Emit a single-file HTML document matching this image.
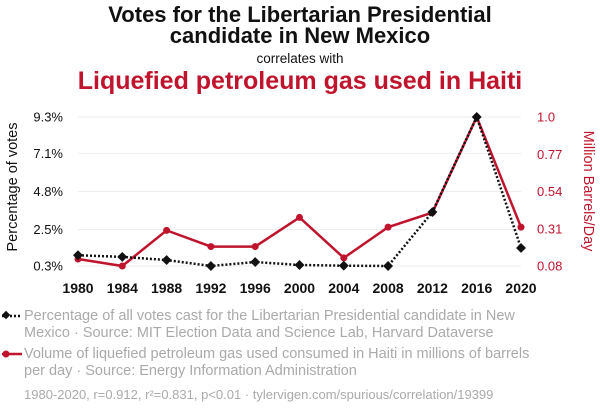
<!DOCTYPE html>
<html><head><meta charset="utf-8"><style>
body{margin:0;background:#fff;font-family:"Liberation Sans",sans-serif;}
svg text{font-family:"Liberation Sans",sans-serif;}
</style></head><body>
<svg width="600" height="414">
<text x="300" y="22" text-anchor="middle" font-size="22" font-weight="bold" fill="#111">Votes for the Libertarian Presidential</text>
<text x="300" y="43" text-anchor="middle" font-size="22" font-weight="bold" fill="#111">candidate in New Mexico</text>
<text x="300" y="63" text-anchor="middle" font-size="13.5" fill="#111">correlates with</text>
<text x="300" y="89" text-anchor="middle" font-size="25" font-weight="bold" fill="#c0142d">Liquefied petroleum gas used in Haiti</text>
<g id="grid"></g>
<g id="axes"></g>
<g id="marks"></g>
<text transform="translate(17,187) rotate(-90)" text-anchor="middle" font-size="14.5" fill="#111">Percentage of votes</text>
<text transform="translate(584,191) rotate(90)" text-anchor="middle" font-size="14.5" fill="#c0142d">Million Barrels/Day</text>
<g>
<line x1="2" y1="316" x2="22" y2="316" stroke="#111" stroke-width="2.5" stroke-dasharray="2,2"/>
<rect x="3" y="312" width="6" height="6" transform="rotate(45 6 315)" fill="#111"/>
<text x="24" y="320" font-size="14.5" fill="#aaa">Percentage of all votes cast for the Libertarian Presidential candidate in New</text>
<text x="24" y="337" font-size="14.5" fill="#aaa">Mexico · Source: MIT Election Data and Science Lab, Harvard Dataverse</text>
</g>
<g>
<line x1="2" y1="354" x2="22" y2="354" stroke="#c0142d" stroke-width="2.5"/>
<circle cx="6" cy="354" r="3.5" fill="#c0142d"/>
<text x="24" y="358" font-size="14.5" fill="#aaa">Volume of liquefied petroleum gas used consumed in Haiti in millions of barrels</text>
<text x="24" y="375" font-size="14.5" fill="#aaa">per day · Source: Energy Information Administration</text>
</g>
<text x="24" y="399" font-size="13" fill="#aaa">1980-2020, r=0.912, r²=0.831, p&lt;0.01 · tylervigen.com/spurious/correlation/19399</text>
</svg>
<script>
const years=[1980,1984,1988,1992,1996,2000,2004,2008,2012,2016,2020];
const votes=[0.95,0.85,0.66,0.3,0.54,0.36,0.32,0.3,3.56,9.3,1.39];
const lpg=[0.123,0.08,0.30,0.20,0.20,0.38,0.13,0.32,0.41,1.0,0.32];
const leftTicks=[0.3,2.5,4.8,7.1,9.3];
const rightTicks=[0.08,0.31,0.54,0.77,1.0];
const NS="http://www.w3.org/2000/svg";
const x=y=>78+(y-1980)/40*443;
const yl=v=>266-(v-0.3)/9.0*149;
const yr=v=>266-(v-0.08)/0.92*149;
function mk(t,a,p){const e=document.createElementNS(NS,t);for(const k in a)e.setAttribute(k,a[k]);document.getElementById(p).appendChild(e);return e;}
leftTicks.forEach((t,i)=>{
 const g=mk('line',{x1:78,x2:521,y1:yl(t),y2:yl(t),stroke:'#eee'},'grid');
 
 
 const l=mk('text',{x:63,y:yl(t)+4.5,'text-anchor':'end','font-size':13,fill:'#111'},'axes');l.textContent=t.toFixed(1)+'%';
 
 
});
rightTicks.forEach(t=>{
 const l=mk('text',{x:537,y:yr(t)+4.5,'font-size':13,fill:'#c0142d'},'axes');l.textContent=(t===1?'1.0':String(t));
 
 
});
years.forEach(yv=>{
 const l=mk('text',{x:x(yv),y:293,'text-anchor':'middle','font-size':14,'font-weight':'bold',fill:'#111'},'axes');l.textContent=yv;
 
 
});
const rl=mk('polyline',{points:years.map((y,i)=>x(y)+','+yr(lpg[i])).join(' '),fill:'none',stroke:'#c0142d','stroke-width':2.5},'marks');


years.forEach((y,i)=>{const c=mk('circle',{cx:x(y),cy:yr(lpg[i]),r:3.5,fill:'#c0142d'},'marks');
 
 });
const bl=mk('polyline',{points:years.map((y,i)=>x(y)+','+yl(votes[i])).join(' '),fill:'none',stroke:'#111','stroke-width':2.5,'stroke-dasharray':'2,2'},'marks');


years.forEach((y,i)=>{const cx=x(y),cy=yl(votes[i]);const r=mk('rect',{x:cx-3.5,y:cy-3.5,width:7,height:7,fill:'#111',transform:`rotate(45 ${cx} ${cy})`},'marks');
 
 });
</script>
</body></html>
